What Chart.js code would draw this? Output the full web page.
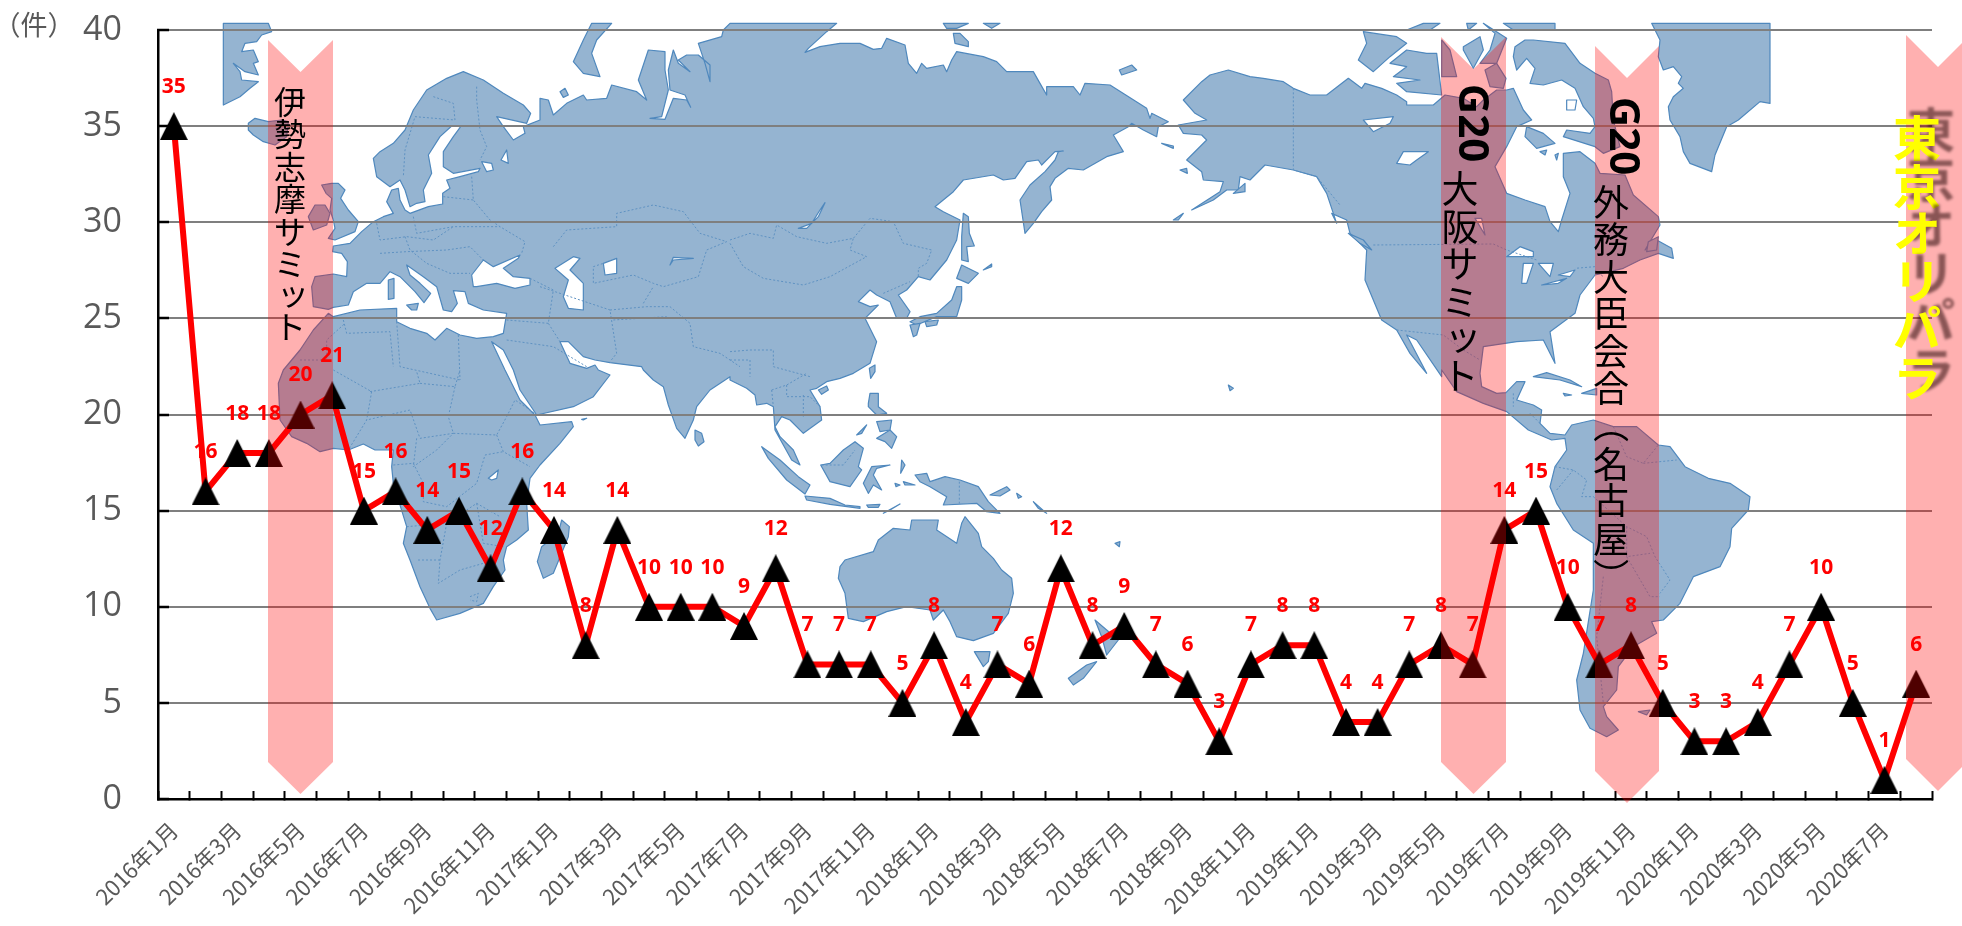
<!DOCTYPE html>
<html>
<head>
<meta charset="utf-8">
<script src="https://cdn.jsdelivr.net/npm/chart.js@4/dist/chart.umd.min.js"></script>
<style>
  html, body { margin: 0; padding: 0; background: #fff; overflow: hidden; }
</style>
</head>
<body>
<canvas id="chart" width="1962" height="926"></canvas>
<script>
const years = [2016, 2017, 2018, 2019, 2020];
const lastYearMonths = 8;
const categories = [];
years.forEach(y => {
  const n = y === 2020 ? lastYearMonths : 12;
  for (let m = 1; m <= n; m++) categories.push(y + '年' + m + '月');
});
const counts = [35, 16, 18, 18, 20, 21, 15, 16, 14, 15, 12, 16,
                14, 8, 14, 10, 10, 10, 9, 12, 7, 7, 7, 5,
                8, 4, 7, 6, 12, 8, 9, 7, 6, 3, 7, 8,
                8, 4, 4, 7, 8, 7, 14, 15, 10, 7, 8, 5,
                3, 3, 4, 7, 10, 5, 1, 6];
const yTicks = [0, 5, 10, 15, 20, 25, 30, 35, 40];

// background map, traced in 3x crop coordinates of six map regions
const crop = (ox, oy) => p => {
  const out = [];
  for (let i = 0; i < p.length; i += 2) out.push([ox + p[i] / 3, oy + p[i + 1] / 3]);
  return out;
};
const A = crop(220, 20), B = crop(220, 370), C = crop(730, 20),
      D = crop(730, 370), E = crop(1250, 20), F = crop(1250, 370);

const oldWorld = [
  ...A([325,880, 340,890, 420,870, 530,865, 530,905, 570,925, 620,940, 645,960, 680,925, 720,945, 770,955, 820,950, 850,940, 860,880,
    790,870, 745,850, 735,815, 700,812, 712,850, 695,875, 670,870, 650,800, 610,770, 560,735, 570,765, 600,790, 632,820, 612,848, 585,815,
    540,770, 510,755, 480,790, 440,790, 400,815, 385,855, 340,862, 325,868, 280,860, 275,800, 285,770, 340,762, 380,770, 382,725, 365,700,
    338,695, 340,678, 390,670, 425,635, 460,605, 490,590, 520,580, 500,545, 515,510, 535,505, 540,540, 555,570, 570,580, 625,560, 668,552,
    668,520, 690,505, 680,480, 720,470, 775,455, 780,445, 700,460, 670,440, 670,395, 700,350, 722,320, 695,318, 660,350, 625,405, 635,460,
    610,510, 615,545, 590,550, 570,560, 555,510, 540,480, 510,500, 470,470, 460,415, 480,395, 520,370, 555,330, 580,270, 620,210, 680,175,
    730,155, 790,180, 850,220, 910,255, 932,280, 920,310, 830,290, 850,320, 880,360, 915,340, 910,320, 960,300, 960,235, 985,240, 1000,285,
    1040,250, 1090,225, 1100,240, 1160,235, 1175,195, 1250,215, 1280,240, 1255,180, 1285,90, 1335,95, 1335,150, 1345,210, 1325,290, 1290,295,
    1335,298, 1360,235, 1400,240, 1412,262, 1395,225, 1350,210, 1345,150, 1360,90, 1375,130, 1410,155, 1375,120, 1400,105, 1435,105, 1470,135,
    1470,185, 1455,130, 1435,70, 1505,50, 1510,30, 1530,10]),
  ...C([320,10, 290,35, 235,85, 225,97, 270,80, 330,70, 390,70, 430,88, 455,85, 470,55, 525,75, 535,130, 560,160, 575,130, 590,145, 640,135,
    650,155, 665,120, 680,95, 760,110, 800,125, 830,155, 910,155, 930,190, 950,225, 950,200, 1030,200, 1050,225, 1065,190, 1140,195, 1250,265,
    1260,295, 1265,280, 1315,305, 1285,320, 1280,350, 1240,330, 1205,310, 1195,320, 1150,345, 1180,395, 1130,410, 1060,450, 1015,445, 975,475,
    960,500, 965,540, 935,575, 910,610, 885,640, 870,540, 900,495, 945,455, 975,420, 985,395, 1000,393, 975,395, 935,435, 925,420, 890,425,
    855,475, 820,480, 790,465, 700,480, 670,515, 615,560, 640,575, 690,600, 680,660, 650,720, 600,780, 565,770, 530,810, 505,825, 540,875,
    530,895, 500,895, 480,845, 440,825, 420,810, 385,845, 420,860, 445,855, 405,895, 440,965, 420,1030, 370,1060, 330,1075]),
  ...D([290,35, 260,55, 240,60, 270,110, 275,150, 220,190, 180,150, 155,140, 135,170, 150,200, 190,240, 210,285, 185,270, 160,225, 135,180,
    130,110, 110,100, 80,105, 75,75, 50,55, 0,30]),
  ...B([1530,20, 1470,60, 1430,110, 1420,150, 1395,205, 1370,175, 1345,105, 1330,50, 1300,30, 1270,0]),
  ...A([1265,1040, 1170,1028, 1125,1020, 1090,1010, 1045,965, 1020,965, 1050,1030, 1100,1045, 1125,1035, 1135,1050]),
  ...B([1170,15, 1120,80, 1060,110, 950,135, 900,60, 880,0]),
  ...A([850,990, 815,965, 855,1050]),
  ...B([900,90, 945,135, 960,165, 1055,155, 1060,170, 1020,220, 960,285, 930,325, 920,400, 925,480, 890,510, 860,530, 850,570, 855,600, 820,650,
    790,700, 720,730, 650,750, 630,715, 600,650, 570,570, 550,520, 560,470, 520,340, 515,290, 520,240, 465,240, 430,222, 385,240, 340,235,
    300,245, 260,220, 215,200, 180,150, 175,40, 190,0]),
  ...A([240,990, 280,930])
];

const newWorld = [
  ...C([1360,240, 1415,185, 1440,165, 1495,150, 1560,170]),
  ...E([40,175, 100,185, 130,205, 180,225, 230,225, 295,175, 335,205, 345,190, 395,205, 440,225, 470,245, 470,255, 550,255, 585,225, 640,235,
    680,260, 700,240, 740,210, 770,210, 790,205, 820,270, 845,300, 800,320, 770,380, 735,440, 770,520, 825,540, 885,560, 900,605, 925,635,
    935,600, 960,520, 940,470, 940,400, 990,395, 1035,430, 1050,460, 1125,465, 1150,525, 1225,590, 1230,615, 1185,690, 1220,660, 1265,685,
    1270,715, 1225,700, 1170,720, 1120,745, 1080,755, 1035,765, 990,825, 975,880, 900,935, 915,1030, 880,960, 800,965, 700,980, 690,1060]),
  ...F([695,50, 740,70, 768,68, 800,35, 825,35, 800,90, 850,105, 875,120, 870,160, 900,190, 945,195, 965,165, 1030,150, 1090,170, 1160,170,
    1225,225, 1260,230, 1305,290, 1375,325, 1440,340, 1500,380, 1495,420, 1445,475, 1440,530, 1410,590, 1330,620, 1290,700, 1240,750, 1205,755,
    1220,790, 1150,830, 1105,890, 1100,960, 1060,1010, 1070,1040, 1105,1080, 1070,1100, 1020,1075, 990,1020, 980,930, 1000,850, 1030,660,
    1030,520, 970,480, 920,400, 900,350, 915,290, 950,240, 945,205, 905,210, 870,195, 835,180, 770,125, 700,100, 620,65, 575,0]),
  ...E([575,1070, 500,960, 470,945, 530,1060, 480,1000, 440,930, 395,900, 345,780, 350,690, 300,640, 290,600, 245,580, 260,610, 230,520, 200,470,
    130,450, 45,435, 0,480]),
  ...C([1530,470, 1525,510, 1490,510, 1450,540, 1385,570, 1470,515, 1480,485, 1420,480, 1415,455, 1370,420, 1430,360, 1415,345, 1360,340, 1345,315,
    1430,300, 1395,280])
];

// clipped at the top and left edge of the map picture
const greenlandWest = A([10,10, 145,10, 155,35, 125,45, 110,65, 75,70, 65,95, 100,90, 115,125, 100,130, 115,165, 75,155, 40,130, 60,155, 65,180,
  115,185, 90,205, 60,230, 10,255]);
const greenlandEast = E([1205,10, 1230,60, 1225,110, 1240,150, 1270,140, 1295,170, 1285,190, 1300,205, 1270,230, 1255,260, 1260,300, 1290,350,
  1300,395, 1320,430, 1385,455, 1395,405, 1430,320, 1465,300, 1530,245, 1560,250, 1560,10]);

const islands = [
  A([85,310, 105,295, 145,305, 185,300, 205,305, 200,350, 165,375, 130,365, 100,345, 85,330]),
  A([265,590, 285,555, 315,555, 330,580, 320,615, 280,630]),
  A([305,495, 335,490, 355,490, 375,510, 362,535, 385,570, 415,605, 405,635, 345,660, 325,655, 345,625, 340,600, 330,570, 335,535, 318,520]),
  A([505,780, 522,775, 522,835, 505,838]),
  A([560,855, 595,850, 590,870, 575,870]),
  A([1115,10, 1175,10, 1130,60, 1115,100, 1140,170, 1090,160, 1060,125, 1090,60]),
  A([1020,215, 1035,205, 1045,225, 1030,232]),
  C([700,580, 715,590, 718,640, 733,678, 710,680, 715,725, 695,720, 695,650]),
  C([695,735, 745,760, 715,790, 680,775]),
  C([680,800, 695,800, 695,840, 680,890, 620,890, 560,915, 540,905, 570,890, 620,880, 665,840]),
  C([540,915, 570,910, 560,945, 550,950]),
  C([585,905, 625,900, 620,915, 590,920]),
  C([418,1045, 435,1035, 435,1055, 422,1075]),
  C([760,750, 785,732, 785,740]),
  C([1168,150, 1205,135, 1220,150, 1175,165]),
  C([1295,370, 1330,378, 1330,385]),
  C([1350,450, 1370,445, 1372,460]),
  C([640,10, 715,10, 680,25, 650,25]),
  C([760,10, 810,10, 785,25]),
  C([670,40, 690,40, 715,65, 715,80, 675,70]),
  C([1330,600, 1360,580, 1345,600]),
  C([1510,520, 1545,490, 1545,515]),
  B([1425,180, 1445,190, 1452,215, 1435,228, 1425,210]),
  B([1025,450, 1048,470, 1045,500, 1000,610, 970,625, 952,575, 965,530, 1015,490]),
  B([1085,148, 1100,145, 1090,150]),
  D([265,60, 290,48, 295,60, 275,73]),
  D([95,230, 150,270, 205,320, 240,345, 225,372, 170,330, 115,265]),
  D([225,378, 300,385, 345,405, 390,410, 390,415, 300,403, 230,390]),
  D([410,405, 450,403, 445,412, 415,412]),
  D([460,430, 510,402, 480,420]),
  D([272,285, 300,280, 340,240, 375,215, 400,235, 385,290, 395,300, 360,350, 300,335]),
  D([400,340, 425,290, 480,285, 440,295, 430,315, 455,360, 430,345, 415,370]),
  D([415,100, 420,70, 445,70, 445,110, 470,130, 440,135, 415,110]),
  D([440,205, 480,180, 500,200, 485,235, 465,215]),
  D([440,155, 485,150, 480,180, 450,185]),
  D([380,195, 410,165, 395,190]),
  D([555,315, 590,310, 600,335, 645,320, 690,330, 745,350, 775,395, 810,430, 770,425, 740,400, 640,405, 650,380, 600,350, 570,335]),
  D([515,270, 525,285, 512,310]),
  D([495,340, 510,345, 498,350]),
  D([520,335, 555,345, 525,345]),
  D([780,375, 830,350, 840,360, 810,378]),
  D([860,370, 875,380, 865,385]),
  D([910,395, 950,430, 925,415]),
  D([330,590, 345,570, 430,545, 445,510, 490,475, 540,480, 545,450, 625,450, 620,480, 680,520, 695,460, 705,440, 745,490, 755,530, 790,565, 815,600,
    845,625, 850,670, 835,730, 790,790, 730,812, 680,800, 660,755, 640,720, 610,750, 600,720, 530,710, 470,725, 400,755, 355,745, 345,670, 325,625]),
  D([733,845, 780,845, 775,875, 760,890]),
  D([1095,750, 1130,780, 1165,810, 1130,855, 1115,800]),
  D([1100,875, 1060,925, 1030,945, 1015,925, 1070,885]),
  D([1155,520, 1170,515, 1168,530]),
  D([1495,45, 1510,55, 1500,62]),
  E([340,35, 440,50, 470,70, 420,110, 370,155, 325,120, 350,70]),
  E([420,130, 470,90, 530,100, 560,100, 575,225, 470,215, 440,190, 510,180, 430,170, 470,140]),
  E([575,60, 600,90, 620,170, 575,170]),
  E([640,80, 690,50, 700,90, 670,145, 640,90]),
  E([700,10, 770,55, 740,130, 690,130, 720,90, 735,40]),
  E([705,150, 740,130, 768,175, 760,205, 720,200]),
  E([470,30, 520,10, 570,10, 540,30]),
  E([650,10, 680,10, 655,30]),
  E([760,10, 915,10, 915,30, 790,30]),
  E([795,80, 825,60, 850,60, 945,70, 990,130, 1035,160, 1075,180, 1085,215, 1090,300, 1110,380, 1060,400, 1035,380, 940,350, 950,330, 1020,340, 1035,320,
    1030,295, 1000,260, 975,205, 935,180, 880,195, 840,190, 855,145, 830,115, 800,150, 790,110]),
  E([830,320, 880,340, 915,370, 860,385, 825,350]),
  E([870,395, 890,390, 885,405]),
  E([915,405, 925,400, 920,420]),
  E([295,640, 340,660, 365,690, 330,670]),
  E([1195,665, 1225,650, 1220,690, 1190,695]),
  F([850,20, 890,8, 960,30, 995,50, 930,30]),
  F([995,70, 1040,55, 1040,75]),
  F([940,70, 965,75, 945,78]),
  F([1165,1025, 1200,1020, 1190,1035])
];

const waters = [
  A([760,800, 755,765, 790,720, 820,740, 900,705, 895,715, 850,745, 880,770, 930,775, 930,795, 885,805, 830,790, 770,800]),
  A([1005,745, 1060,710, 1080,715, 1050,750, 1090,790, 1090,870, 1045,865, 1030,830, 1045,780]),
  A([1150,730, 1190,715, 1190,760, 1155,765]),
  A([1350,735, 1360,712, 1420,715, 1360,720]),
  A([785,425, 815,430, 820,450, 800,455]),
  A([843,420, 860,390, 865,430]),
  C([205,625, 245,610, 270,570, 285,548, 265,590, 230,625]),
  B([805,325, 835,300, 830,325, 815,330]),
  E([440,430, 460,395, 535,395, 500,420, 480,435]),
  E([340,300, 430,290, 420,310, 370,335]),
  E([675,595, 695,595, 705,645, 690,620]),
  E([770,710, 810,680, 850,695, 850,710]),
  E([815,790, 820,730, 850,730, 830,790]),
  E([865,730, 910,730, 900,770]),
  E([875,795, 950,775, 925,790]),
  E([925,765, 975,750, 960,770]),
  E([950,240, 980,240, 975,270, 950,270])
];

// dotted country borders
const borders = [
  A([640,230, 700,250, 705,300, 585,290, 555,390, 550,470]),
  A([770,200, 770,240, 780,330, 800,380, 780,420]),
  A([755,470, 760,540, 810,600, 840,620, 915,665, 905,700]),
  A([670,530, 760,540]), A([580,590, 590,640, 700,620, 800,620, 840,620]),
  A([470,610, 480,660, 560,650, 640,660, 700,620]),
  A([480,700, 560,695, 680,690, 750,680, 790,720]),
  A([555,650, 570,690, 620,730, 690,760, 750,760]),
  A([1000,680, 1040,630, 1190,620, 1190,580, 1300,555, 1390,575, 1440,640, 1520,665, 1460,690, 1435,770, 1330,800, 1300,790, 1240,765, 1120,790, 1120,740, 1150,730]),
  A([930,775, 1000,810, 985,910, 1020,965]), A([960,800, 1110,850, 1170,870, 1190,1000, 1170,1025]),
  A([1170,870, 1280,860, 1350,860, 1410,910, 1420,980, 1500,1000, 1560,1040]),
  A([1270,850, 1300,800]), A([985,910, 860,900]),
  A([1180,900, 1340,890]), A([860,960, 1000,980, 1100,1040]),
  A([370,900, 380,940, 510,935, 520,1040]), A([530,905, 540,1040, 720,1080]), A([715,945, 720,1080]),
  A([240,1020, 320,1020, 320,960, 375,910]),
  B([340,0, 455,65, 440,150, 385,240]), B([450,65, 600,40, 590,5]), B([600,40, 705,50, 720,0]),
  B([705,50, 685,140, 700,190, 600,205, 570,120, 440,150]), B([590,205, 580,290, 650,240, 700,190]),
  B([700,190, 830,195, 860,140, 885,90, 945,130]), B([830,195, 850,245, 930,290]),
  B([520,285, 580,280, 610,340, 610,395, 680,410, 770,340, 795,255, 850,245]),
  B([560,470, 680,460, 770,400, 840,440]), B([680,460, 660,570, 655,640, 720,600, 790,580]),
  B([660,570, 590,570]), B([770,400, 790,520, 850,530]), B([750,680, 775,670, 770,695, 750,690]),
  C([0,660, 60,640, 130,655, 140,615, 200,650, 290,670, 370,655, 420,595, 490,605, 520,670, 605,690, 590,730, 565,745, 565,770]),
  C([0,670, 40,740, 100,775, 220,795, 300,770, 410,710, 360,690, 370,655]),
  C([460,820, 540,785]),
  C([0,995, 60,990, 130,990, 130,1040, 240,1070]),
  C([0,1020, 60,1020, 60,1070]),
  D([125,60, 170,45, 230,10]), D([125,60, 130,110]), D([170,45, 170,80, 240,80, 270,110]), D([220,75, 220,140]),
  D([275,285, 340,285, 375,240]), D([688,335, 688,405]),
  E([130,205, 130,450, 200,470, 270,555]), E([370,675, 730,672, 770,690, 860,720]),
  E([1035,740, 975,745]), E([1035,750, 1060,770]),
  E([440,930, 580,945, 640,990, 690,1020]),
  F([790,70, 790,110]), F([840,130, 870,160]),
  F([915,290, 970,300, 1010,330, 995,380, 1030,380]), F([970,300, 920,360]),
  F([1090,170, 1130,260, 1180,280, 1225,225]), F([1180,280, 1280,270]),
  F([1030,380, 1130,470, 1190,500, 1215,560, 1260,630, 1230,670]),
  F([1130,470, 1130,560, 1200,550]), F([1060,620, 1040,800, 1060,1000]), F([1130,560, 1200,680, 1230,680])
];

const MAP_FILL = '#95b4d1', MAP_LINE = '#4f88bd';

function tracePoly(ctx, pts) {
  ctx.beginPath();
  pts.forEach((p, i) => i ? ctx.lineTo(p[0], p[1]) : ctx.moveTo(p[0], p[1]));
  ctx.closePath();
}

function drawMap(ctx) {
  ctx.save();
  ctx.lineJoin = 'round';
  ctx.lineWidth = 1.2;
  ctx.strokeStyle = MAP_LINE;
  ctx.fillStyle = MAP_FILL;
  [oldWorld, newWorld, greenlandWest, greenlandEast, ...islands].forEach(pts => {
    tracePoly(ctx, pts);
    ctx.fill();
    ctx.stroke();
  });
  ctx.fillStyle = '#fff';
  waters.forEach(pts => {
    tracePoly(ctx, pts);
    ctx.fill();
    ctx.stroke();
  });
  ctx.lineWidth = 1;
  ctx.strokeStyle = '#5f92c2';
  ctx.setLineDash([2, 2]);
  borders.forEach(pts => {
    ctx.beginPath();
    pts.forEach((p, i) => i ? ctx.lineTo(p[0], p[1]) : ctx.moveTo(p[0], p[1]));
    ctx.stroke();
  });
  ctx.restore();
}

// event arrows: left, right, top of the shaft, bottom of the shaft (tip and notch add 32 px)
const eventArrows = [
  [268, 333, 40, 762],
  [1441, 1506, 37, 762],
  [1595, 1659, 46, 771],
  [1906, 1970, 35, 759]
];

function drawArrows(ctx) {
  ctx.save();
  ctx.fillStyle = 'rgba(255, 0, 0, 0.31)';
  eventArrows.forEach(([l, r, t, b]) => {
    const mid = (l + r) / 2;
    ctx.beginPath();
    ctx.moveTo(l, t);
    ctx.lineTo(mid, t + 32);
    ctx.lineTo(r, t);
    ctx.lineTo(r, b);
    ctx.lineTo(mid, b + 32);
    ctx.lineTo(l, b);
    ctx.closePath();
    ctx.fill();
  });
  ctx.restore();
}

// one character at a time, canvas has no vertical writing mode
function verticalText(ctx, text, x, ys, font, color) {
  ctx.save();
  ctx.font = font;
  ctx.fillStyle = color;
  ctx.textAlign = 'center';
  ctx.textBaseline = 'middle';
  Array.from(text).forEach((ch, i) => {
    ctx.save();
    ctx.translate(ch === 'ッ' ? x + 3 : x, ch === 'ッ' ? ys[i] - 3 : ys[i]);
    if (ch === '（' || ch === '）') ctx.rotate(Math.PI / 2);
    ctx.fillText(ch, 0, 0);
    ctx.restore();
  });
  ctx.restore();
}

function rotatedText(ctx, text, x, y, font) {
  ctx.save();
  ctx.translate(x, y);
  ctx.rotate(Math.PI / 2);
  ctx.font = font;
  ctx.fillStyle = '#000';
  ctx.textAlign = 'center';
  ctx.textBaseline = 'middle';
  ctx.fillText(text, 0, 0);
  ctx.restore();
}

function drawNotes(ctx) {
  const jp = '"Noto Sans CJK JP"';
  verticalText(ctx, '伊勢志摩サミット', 290, [102, 134, 167, 199, 232, 264, 296, 327], '32px ' + jp, '#000');
  rotatedText(ctx, 'G20', 1471, 123, 'bold 42px "Open Sans"');
  verticalText(ctx, '大阪サミット', 1460, [189, 227, 264, 302, 340, 376], '37px ' + jp, '#000');
  rotatedText(ctx, 'G20', 1622, 136, 'bold 42px "Open Sans"');
  verticalText(ctx, '外務大臣会合（名古屋）', 1611, [202, 239, 277, 313, 351, 388, 425, 464, 500, 539, 576], '36px ' + jp, '#000');
  ctx.save();
  ctx.shadowColor = 'rgba(40, 10, 10, 0.55)';
  ctx.shadowOffsetX = 14;
  ctx.shadowOffsetY = -8;
  ctx.shadowBlur = 3;
  verticalText(ctx, '東京オリパラ', 1917, [138, 187, 233, 281, 328, 378], 'bold 48px ' + jp, '#ffff00');
  ctx.restore();
}

// black triangle, centred on the point
function triangleMarker(size) {
  const c = document.createElement('canvas');
  c.width = size;
  c.height = size;
  const g = c.getContext('2d');
  g.fillStyle = '#000';
  g.beginPath();
  g.moveTo(size / 2, 0);
  g.lineTo(size, size);
  g.lineTo(0, size);
  g.closePath();
  g.fill();
  return c;
}

const backdrop = {
  id: 'backdrop',
  beforeDraw(chart) {
    drawMap(chart.ctx);
  },
  afterDraw(chart) {
    const ctx = chart.ctx;
    drawArrows(ctx);
    const meta = chart.getDatasetMeta(0);
    ctx.save();
    ctx.font = 'bold 21px "Open Sans"';
    ctx.fillStyle = '#ff0000';
    ctx.textAlign = 'center';
    ctx.textBaseline = 'middle';
    meta.data.forEach((pt, i) => ctx.fillText(counts[i], pt.x, pt.y - 39));
    ctx.font = '27px "Noto Sans CJK JP"';
    ctx.fillStyle = '#595959';
    ctx.fillText('（件）', 34, 25);
    ctx.restore();
    drawNotes(ctx);
  }
};

new Chart(document.getElementById('chart'), {
  type: 'line',
  data: {
    labels: categories,
    datasets: [{
      data: counts,
      borderColor: '#ff0000',
      borderWidth: 6,
      tension: 0,
      clip: false,
      pointStyle: triangleMarker(28),
      pointRadius: 14,
      pointHoverRadius: 14
    }]
  },
  options: {
    responsive: false,
    animation: false,
    devicePixelRatio: 1,
    layout: { padding: { top: 30, right: 30, left: 0, bottom: 0 } },
    plugins: { legend: { display: false }, tooltip: { enabled: false } },
    scales: {
      x: {
        offset: true,
        afterFit: s => { s.height = 127; s.paddingLeft = 0; s.paddingRight = 0; },
        grid: { offset: true, drawOnChartArea: false, tickLength: -8, tickColor: '#000', tickWidth: 2 },
        border: { color: '#000', width: 2.5 },
        ticks: {
          autoSkip: false,
          minRotation: 45,
          maxRotation: 45,
          padding: 26,
          color: '#595959',
          font: { family: '"Noto Sans CJK JP"', size: 22 },
          callback(v, i) { return i % 2 ? '' : categories[i]; }
        }
      },
      y: {
        min: 0,
        max: 40,
        afterFit: s => { s.width = 158; s.paddingTop = 0; s.paddingBottom = 0; },
        afterBuildTicks: s => { s.ticks = yTicks.map(v => ({ value: v })); },
        grid: { color: '#7f7f7f', lineWidth: 2, tickLength: -11, tickColor: '#000', tickWidth: 2.5 },
        border: { color: '#000', width: 2.5 },
        ticks: {
          padding: 47,
          color: '#595959',
          font: { family: '"Open Sans"', size: 34 }
        }
      }
    }
  },
  plugins: [backdrop]
});
</script>
</body>
</html>
